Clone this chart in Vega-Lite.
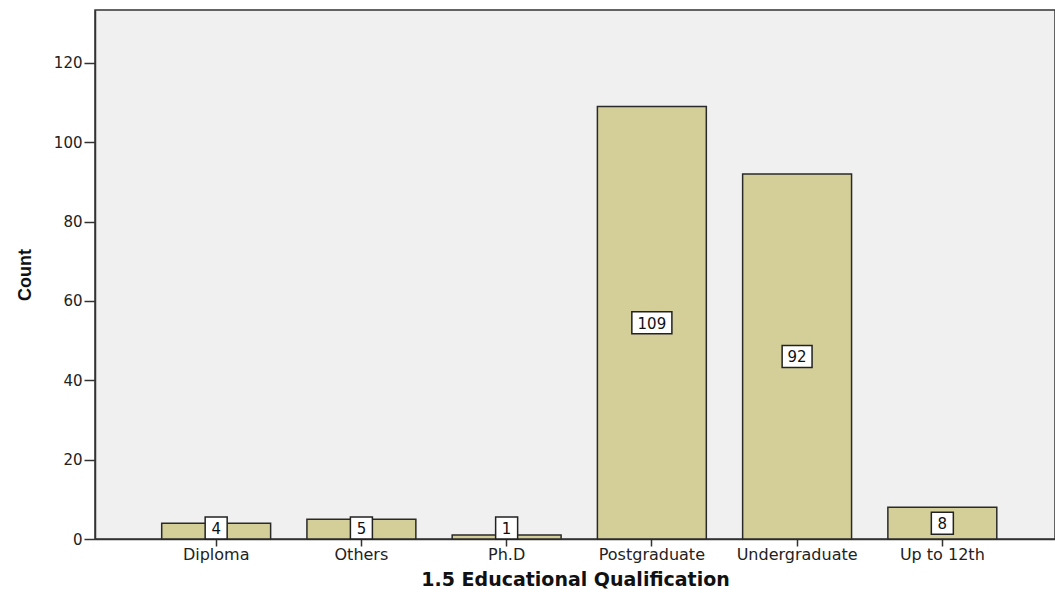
{
  "$schema": "https://vega.github.io/schema/vega-lite/v6.json",
  "width": 960,
  "height": 529,
  "autosize": "none",
  "padding": {"left": 95, "top": 10, "right": 0, "bottom": 54},
  "background": "white",
  "config": {
    "view": {"fill": "#F0F0F0", "stroke": "#333333", "strokeWidth": 1.5},
    "font": "DejaVu Sans"
  },
  "data": {
    "values": [
      {"category": "Diploma", "count": 4},
      {"category": "Others", "count": 5},
      {"category": "Ph.D", "count": 1},
      {"category": "Postgraduate", "count": 109},
      {"category": "Undergraduate", "count": 92},
      {"category": "Up to 12th", "count": 8}
    ]
  },
  "transform": [
    {"calculate": "max(datum.count / 2, 2.8)", "as": "labelPos"},
    {"calculate": "length(toString(datum.count))", "as": "digits"}
  ],
  "encoding": {
    "x": {
      "field": "category",
      "type": "nominal",
      "sort": null,
      "scale": {"paddingInner": 0.25, "paddingOuter": 0.43, "align": 0.534},
      "axis": {
        "title": "1.5 Educational Qualification",
        "titleFont": "DejaVu Sans",
        "titleFontSize": 19,
        "titleFontWeight": "bold",
        "titleColor": "#111111",
        "titlePadding": 8,
        "labelAngle": 0,
        "labelFont": "DejaVu Sans",
        "labelFontSize": 16,
        "labelColor": "#222222",
        "labelPadding": 0,
        "tickSize": 7,
        "tickColor": "#333333",
        "tickWidth": 1.5,
        "domainColor": "#333333",
        "domainWidth": 1.5,
        "grid": false
      }
    }
  },
  "layer": [
    {
      "mark": {"type": "bar", "fill": "#D4CF98", "stroke": "#2A2A2A", "strokeWidth": 1.5},
      "encoding": {
        "y": {
          "field": "count",
          "type": "quantitative",
          "scale": {"domain": [0, 133.3], "nice": false, "zero": true},
          "axis": {
            "title": "Count",
            "titleFont": "Liberation Sans",
            "titleFontSize": 18,
            "titleFontWeight": "bold",
            "titleColor": "#111111",
            "titlePadding": 19,
            "values": [0, 20, 40, 60, 80, 100, 120],
            "labelFont": "DejaVu Sans",
            "labelFontSize": 15,
            "labelColor": "#222222",
            "labelPadding": 2,
            "tickSize": 11,
            "tickColor": "#333333",
            "tickWidth": 1.5,
            "domainColor": "#333333",
            "domainWidth": 1.5,
            "grid": false
          }
        }
      }
    },
    {
      "mark": {"type": "point", "filled": true, "fill": "white", "stroke": "#222222", "strokeWidth": 1.5, "opacity": 1, "size": 484},
      "encoding": {
        "y": {"field": "labelPos", "type": "quantitative"},
        "shape": {
          "field": "digits",
          "type": "nominal",
          "scale": {
            "domain": [1, 2, 3],
            "range": ["M-1,-1H1V1H-1Z", "M-1.36,-1H1.36V1H-1.36Z", "M-1.82,-1H1.82V1H-1.82Z"]
          },
          "legend": null
        }
      }
    },
    {
      "mark": {"type": "text", "font": "DejaVu Sans", "fontSize": 15, "fill": "#111111", "align": "center", "baseline": "middle", "dy": 1},
      "encoding": {
        "y": {"field": "labelPos", "type": "quantitative"},
        "text": {"field": "count", "type": "quantitative"}
      }
    }
  ]
}
